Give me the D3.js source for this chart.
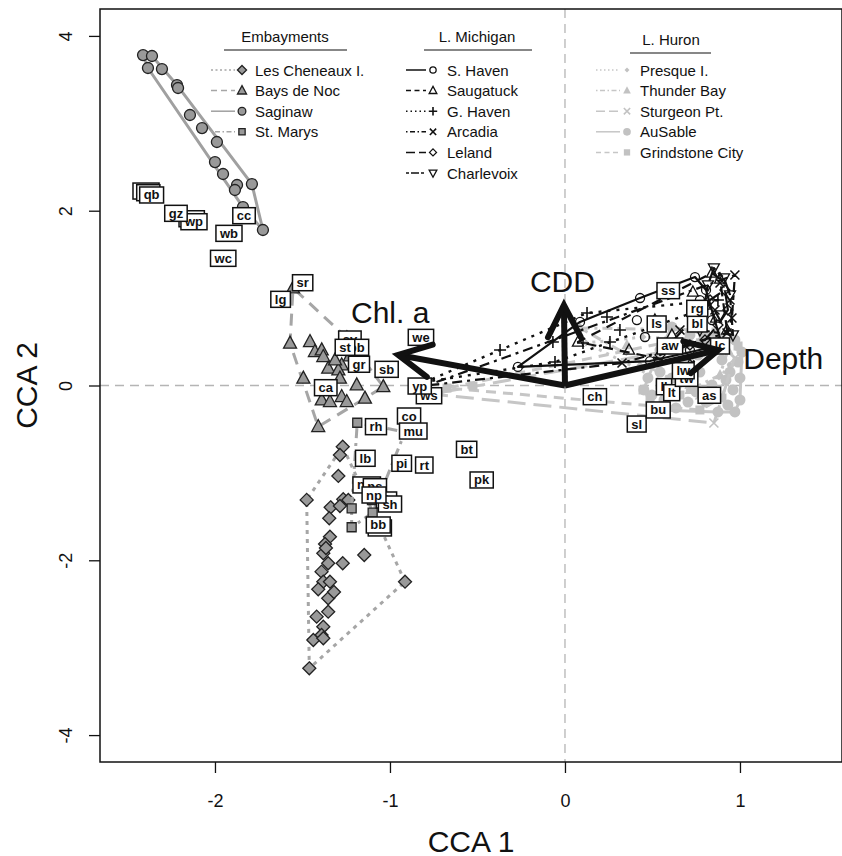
<!DOCTYPE html>
<html>
<head>
<meta charset="utf-8">
<script src="https://cdn.jsdelivr.net/npm/d3@7"></script>
<style>
body { margin: 0; background: #fff; }
text { font-family: "Liberation Sans", Arial, Helvetica, sans-serif; }
</style>
</head>
<body>
<svg id="chart" width="842" height="856"></svg>
<script>
// ---- site scores (CCA 1, CCA 2) ----
// Embayments
var lesCheneaux = [[-1.270,-0.700],[-1.286,-0.795],[-1.295,-1.035],[-1.476,-1.309],[-1.267,-1.302],[-1.238,-1.310],
	[-1.339,-1.394],[-1.286,-1.379],[-1.347,-1.519],[-1.343,-1.730],[-1.371,-1.814],[-1.381,-1.920],[-1.353,-2.034],
	[-1.391,-2.130],[-1.381,-2.245],[-1.343,-2.245],[-1.410,-2.332],[-1.353,-2.435],[-1.353,-2.588],[-1.419,-2.645],
	[-1.381,-2.760],[-1.391,-2.855],[-1.438,-2.912],[-1.381,-2.892],[-1.461,-3.236],[-1.270,-2.034],[-1.147,-1.939],
	[-0.914,-2.245],[-1.366,-1.859],[-1.320,-2.363]];
var baysDeNoc = [[-1.554,1.116],[-1.246,0.543],[-1.571,0.483],[-1.457,0.501],[-1.429,0.387],[-1.390,0.406],
	[-1.381,0.330],[-1.353,0.197],[-1.276,0.235],[-1.295,0.177],[-1.495,0.082],[-1.286,0.082],[-1.190,0.006],
	[-1.038,-0.014],[-1.390,-0.166],[-1.276,-0.128],[-1.247,-0.185],[-1.143,-0.146],[-1.343,-0.185],[-1.410,-0.471],
	[-1.314,0.292],[-1.229,0.338]];
var saginaw = [[-2.411,3.781],[-2.360,3.770],[-2.383,3.633],[-2.303,3.621],[-2.217,3.438],[-2.211,3.404],
	[-2.143,3.095],[-2.074,2.946],[-1.989,2.786],[-2.000,2.557],[-1.954,2.420],[-1.874,2.294],[-1.886,2.237],
	[-1.789,2.305],[-1.840,2.042],[-1.726,1.779]];
var stMarys = [[-1.187,-0.426],[-0.914,-0.532],[-1.219,-1.405],[-1.219,-1.622],[-1.099,-1.455],[-1.103,-1.310]];

// L. Michigan
var sHaven = [[-0.269,0.212],[0.086,0.727],[0.429,1.001],[0.743,1.241],[0.411,0.749],[0.457,0.555],[0.771,0.978],
	[0.840,0.749],[0.486,0.280],[0.714,0.406],[0.897,0.463],[0.806,1.093]];
var saugatuck = [[0.074,0.498],[0.366,0.406],[0.731,1.070],[0.840,1.287],[0.886,1.219],[0.800,0.921],[0.863,0.772],
	[0.611,0.578],[0.714,0.235],[0.926,0.635],[0.514,0.749]];
var gHaven = [[-0.800,0.040],[-0.371,0.406],[-0.057,0.269],[-0.069,0.498],[0.126,0.830],[0.240,0.784],[0.314,0.635],
	[0.257,0.498],[0.103,0.486],[0.771,0.864],[0.874,0.978]];
var arcadia = [[-0.790,0.000],[0.886,1.173],[0.926,0.601],[0.971,1.264],[0.943,0.978],[0.857,0.864],[0.326,0.257],
	[0.657,0.635],[0.954,0.772]];
var leland = [[0.800,0.521],[0.874,0.692],[0.914,1.093],[0.829,0.978],[0.714,0.463],[0.543,0.349],[0.931,0.864]];
var charlevoix = [[0.851,1.344],[0.909,1.230],[0.817,1.150],[0.943,1.036],[0.886,0.807],[0.960,0.578],[0.771,0.635]];

// L. Huron
var presqueI = [[0.120,0.486],[0.446,0.555],[0.771,0.521],[0.943,0.235],[0.800,-0.109],[0.600,0.006],[0.429,0.235]];
var thunderBay = [[0.086,0.658],[0.354,0.463],[0.800,0.635],[0.931,0.406],[0.886,0.120],[0.714,-0.051],[0.543,0.292]];
var sturgeonPt = [[-0.760,-0.098],[0.851,-0.429],[0.771,-0.109],[0.914,0.040],[0.971,0.315],[0.714,0.269],
	[0.874,0.498],[0.571,-0.143]];
var auSable = [[0.611,0.669],[0.714,0.578],[0.800,0.543],[0.971,0.521],[1.011,0.383],[0.989,0.269],[0.943,0.154],
	[1.000,0.086],[0.960,-0.051],[1.000,-0.166],[0.931,-0.223],[0.874,-0.303],[0.806,-0.189],[0.749,-0.074],
	[0.703,-0.189],[0.634,-0.257],[0.566,-0.166],[0.497,-0.109],[0.451,-0.051],[0.474,0.086],[0.543,0.154],
	[0.611,0.086],[0.771,0.154],[0.840,0.006],[0.897,0.292],[0.857,0.429],[0.760,0.349],[0.686,0.292],
	[0.920,0.063],[0.971,-0.303],[0.543,0.406],[0.514,-0.280]];
var grindstone = [[-0.674,-0.029],[-0.526,-0.006],[0.446,-0.051],[0.486,-0.166],[0.657,-0.109],[0.771,-0.280],
	[0.897,-0.143],[0.989,0.452],[0.863,0.612],[0.714,0.040],[0.543,0.006]];

// ---- species scores ----
var speciesCodes = ["bw","bk","qb","wy","wp","gz","cc","wb","wc","sr","lg","sv","pb","st","gr","sb","ca","we",
	"ws","yp","co","mu","rh","lb","pi","rt","bt","pk","nm","ns","th","sh","np","bs","bb",
	"ch","sl","bu","ll","lt","as","tw","lw","aw","lc","ls","bl","rg","ss"];
var speciesX = [-2.394,-2.381,-2.362,-2.133,-2.120,-2.223,-1.834,-1.920,-1.953,-1.499,-1.625,-1.229,-1.190,-1.257,
	-1.177,-1.019,-1.367,-0.823,-0.777,-0.830,-0.891,-0.867,-1.080,-1.141,-0.933,-0.804,-0.562,-0.476,
	-1.133,-1.086,-1.020,-1.000,-1.091,-1.058,-1.067,
	0.171,0.410,0.533,0.566,0.610,0.825,0.695,0.676,0.600,0.886,0.524,0.756,0.756,0.590];
var speciesY = [2.225,2.206,2.180,1.908,1.874,1.970,1.943,1.741,1.455,1.176,0.986,0.532,0.437,0.437,
	0.243,0.185,-0.025,0.551,-0.117,-0.006,-0.349,-0.521,-0.471,-0.833,-0.890,-0.910,-0.730,-1.081,
	-1.138,-1.158,-1.310,-1.356,-1.253,-1.630,-1.596,
	-0.128,-0.441,-0.280,-0.014,-0.082,-0.112,0.082,0.169,0.452,0.452,0.704,0.704,0.883,1.085];

// ---- environmental vectors ----
var envNames = ["Chl. a", "CDD", "Depth"];
var envX = [-0.953, -0.006, 0.876];
var envY = [0.349, 0.921, 0.406];

// ---- tick values ----
var xTicks = [-2, -1, 0, 1];
var yTicks = [-4, -2, 0, 2, 4];

// ---- styles (built from the arrays above) ----
var embFill = "#999999", embLine = "#a6a6a6";
var hurFill = "#c2c2c2", hurLine = "#c6c6c6";
var sites = [
	{ group: 0, name: "Les Cheneaux I.", pts: lesCheneaux, sym: "diamond", s: 6.5, fill: embFill, stroke: "#222", line: embLine, dash: "4,5", lw: 3 },
	{ group: 0, name: "Bays de Noc", pts: baysDeNoc, sym: "triangle", s: 6.5, fill: embFill, stroke: "#222", line: embLine, dash: "12,8", lw: 3 },
	{ group: 0, name: "Saginaw", pts: saginaw, sym: "circle", s: 5.5, fill: embFill, stroke: "#222", line: "#a0a0a0", dash: null, lw: 3 },
	{ group: 0, name: "St. Marys", pts: stMarys, sym: "square", s: 4.5, fill: embFill, stroke: "#222", line: embLine, dash: "3,5,10,5", lw: 3 },
	{ group: 1, name: "S. Haven", pts: sHaven, sym: "circle", s: 4.5, fill: "none", stroke: "#111", line: "#111", dash: null, lw: 2.2 },
	{ group: 1, name: "Saugatuck", pts: saugatuck, sym: "triangle", s: 5.5, fill: "none", stroke: "#111", line: "#111", dash: "10,7", lw: 2.2 },
	{ group: 1, name: "G. Haven", pts: gHaven, sym: "plus", s: 6, fill: "none", stroke: "#111", line: "#111", dash: "3,6", lw: 2.4 },
	{ group: 1, name: "Arcadia", pts: arcadia, sym: "cross", s: 4.5, fill: "none", stroke: "#111", line: "#111", dash: "3,5,10,5", lw: 2.2 },
	{ group: 1, name: "Leland", pts: leland, sym: "diamond", s: 5, fill: "none", stroke: "#111", line: "#111", dash: "18,8", lw: 2.2 },
	{ group: 1, name: "Charlevoix", pts: charlevoix, sym: "tridown", s: 5.5, fill: "none", stroke: "#111", line: "#111", dash: "6,4,16,4", lw: 2.2 },
	{ group: 2, name: "Presque I.", pts: presqueI, sym: "diamond", s: 3.5, fill: hurFill, stroke: "none", line: hurLine, dash: "3,5", lw: 3 },
	{ group: 2, name: "Thunder Bay", pts: thunderBay, sym: "triangle", s: 5.5, fill: hurFill, stroke: "none", line: hurLine, dash: "3,5,10,5", lw: 3 },
	{ group: 2, name: "Sturgeon Pt.", pts: sturgeonPt, sym: "cross", s: 4.5, fill: "none", stroke: hurFill, line: hurLine, dash: "18,8", lw: 3 },
	{ group: 2, name: "AuSable", pts: auSable, sym: "circle", s: 5.5, fill: hurFill, stroke: "none", line: hurLine, dash: null, lw: 3 },
	{ group: 2, name: "Grindstone City", pts: grindstone, sym: "square", s: 4.5, fill: hurFill, stroke: "none", line: hurLine, dash: "10,7", lw: 3 }
];
var groupTitles = ["Embayments", "L. Michigan", "L. Huron"];

var svg = d3.select("#chart");
var padL = 100, padT = 9, padR = 842, padB = 762;

var x = d3.scaleLinear().domain([-2.657, 1.583]).range([padL, padR]);
var y = d3.scaleLinear().domain([-4.308, 4.308]).range([padB, padT]);

svg.append("defs").append("clipPath").attr("id", "clip")
	.append("rect").attr("x", padL).attr("y", padT).attr("width", padR - padL).attr("height", padB - padT);

var plot = svg.append("g").attr("clip-path", "url(#clip)");

// zero lines
plot.append("line").attr("x1", x(0)).attr("x2", x(0)).attr("y1", padT).attr("y2", padB)
	.attr("stroke", "#b5b5b5").attr("stroke-width", 1.3).attr("stroke-dasharray", "9,6");
plot.append("line").attr("x1", padL).attr("x2", padR).attr("y1", y(0)).attr("y2", y(0))
	.attr("stroke", "#b5b5b5").attr("stroke-width", 1.3).attr("stroke-dasharray", "9,6");

function symPath(type, s) {
	if (type == "square") return "M" + (-s) + "," + (-s) + "H" + s + "V" + s + "H" + (-s) + "Z";
	if (type == "diamond") return "M0," + (-s) + "L" + s + ",0L0," + s + "L" + (-s) + ",0Z";
	if (type == "triangle") return "M0," + (-s * 1.1) + "L" + s + "," + (s * 0.75) + "L" + (-s) + "," + (s * 0.75) + "Z";
	if (type == "tridown") return "M0," + (s * 1.1) + "L" + s + "," + (-s * 0.75) + "L" + (-s) + "," + (-s * 0.75) + "Z";
	if (type == "plus") return "M" + (-s) + ",0H" + s + "M0," + (-s) + "V" + s;
	if (type == "cross") return "M" + (-s) + "," + (-s) + "L" + s + "," + s + "M" + (-s) + "," + s + "L" + s + "," + (-s);
	return "";
}

function drawSym(g, site, cx, cy, scale) {
	var s = site.s * scale;
	var line = site.sym == "plus" || site.sym == "cross";
	var sel;
	if (site.sym == "circle") {
		sel = g.append("circle").attr("cx", cx).attr("cy", cy).attr("r", s);
	} else {
		sel = g.append("path").attr("d", symPath(site.sym, s)).attr("transform", "translate(" + cx + "," + cy + ")");
	}
	sel.attr("fill", line ? "none" : site.fill)
		.attr("stroke", site.stroke)
		.attr("stroke-width", line ? 1.6 : 1.3);
}

function drawSite(site) {
	var g = plot.append("g");
	var pix = site.pts.map(function (p) { return [x(p[0]), y(p[1])]; });
	var hull = d3.polygonHull(pix);
	g.append("path")
		.attr("d", "M" + hull.join("L") + "Z")
		.attr("fill", "none")
		.attr("stroke", site.line)
		.attr("stroke-width", site.lw)
		.attr("stroke-dasharray", site.dash)
		.attr("stroke-linejoin", "round");
	pix.forEach(function (p) { drawSym(g, site, p[0], p[1], 1); });
}

// L. Huron first (underneath), then L. Michigan, then embayments
sites.filter(function (s) { return s.group == 2; }).forEach(drawSite);
sites.filter(function (s) { return s.group == 1; }).forEach(drawSite);
sites.filter(function (s) { return s.group == 0; }).forEach(drawSite);

// species labels in boxes
var lab = plot.append("g");
speciesCodes.forEach(function (code, i) {
	var cx = x(speciesX[i]), cy = y(speciesY[i]);
	var g = lab.append("g");
	var r = g.append("rect");
	var t = g.append("text").attr("x", cx).attr("y", cy)
		.attr("text-anchor", "middle").attr("dominant-baseline", "central")
		.attr("font-size", 13).attr("font-weight", "bold").attr("fill", "#111").text(code);
	var w = t.node().getComputedTextLength() + 8;
	r.attr("x", cx - w / 2).attr("y", cy - 8).attr("width", w).attr("height", 16)
		.attr("fill", "#fff").attr("stroke", "#111").attr("stroke-width", 1.5);
});

// environmental arrows
var arr = plot.append("g");
var labelOffsets = [[-8, -42], [-1.5, -24], [65, 8]];
envNames.forEach(function (name, i) {
	var x0 = x(0), y0 = y(0), x1 = x(envX[i]), y1 = y(envY[i]);
	var ang = Math.atan2(y0 - y1, x0 - x1);
	var L = 36, a = 27 * Math.PI / 180;
	arr.append("line").attr("x1", x0).attr("y1", y0).attr("x2", x1).attr("y2", y1)
		.attr("stroke", "#111").attr("stroke-width", 6);
	var b1 = [x1 + L * Math.cos(ang + a), y1 + L * Math.sin(ang + a)];
	var b2 = [x1 + L * Math.cos(ang - a), y1 + L * Math.sin(ang - a)];
	arr.append("path").attr("d", "M" + b1 + "L" + x1 + "," + y1 + "L" + b2)
		.attr("fill", "none").attr("stroke", "#111").attr("stroke-width", 6)
		.attr("stroke-linejoin", "miter").attr("stroke-linecap", "round");
	arr.append("text").attr("x", x1 + labelOffsets[i][0]).attr("y", y1 + labelOffsets[i][1])
		.attr("text-anchor", "middle").attr("dominant-baseline", "central")
		.attr("font-size", 30).attr("fill", "#111").text(name);
});

// frame
svg.append("rect").attr("x", padL).attr("y", padT).attr("width", padR - padL).attr("height", padB - padT)
	.attr("fill", "none").attr("stroke", "#111").attr("stroke-width", 1.5);

// axes
var xAxis = svg.append("g").attr("transform", "translate(0," + padB + ")")
	.call(d3.axisBottom(x).tickValues(xTicks).tickSize(11).tickPadding(22).tickFormat(function (d) { return String(d); }));
var yAxis = svg.append("g").attr("transform", "translate(" + padL + ",0)")
	.call(d3.axisLeft(y).tickValues(yTicks).tickSize(11).tickFormat(function (d) { return String(d); }));
[xAxis, yAxis].forEach(function (a) {
	a.select(".domain").remove();
	a.selectAll("line").attr("stroke", "#111").attr("stroke-width", 1.3);
	a.selectAll("text").attr("font-size", 18).attr("fill", "#111")
		.attr("font-family", "'Liberation Sans', Arial, sans-serif");
});
xAxis.selectAll("text").attr("dy", null).attr("dominant-baseline", "central").attr("y", 39);
yAxis.selectAll("text").attr("x", null).attr("dy", null)
	.attr("text-anchor", "middle").attr("dominant-baseline", "central")
	.attr("transform", "translate(-34,0) rotate(-90)");

svg.append("text").attr("x", (padL + padR) / 2).attr("y", 841)
	.attr("text-anchor", "middle").attr("dominant-baseline", "central")
	.attr("font-size", 30).attr("fill", "#111").text("CCA 1");
svg.append("text").attr("transform", "translate(26," + ((padT + padB) / 2) + ") rotate(-90)")
	.attr("text-anchor", "middle").attr("dominant-baseline", "central")
	.attr("font-size", 30).attr("fill", "#111").text("CCA 2");

// legend
var legCols = [
	{ titleX: 285, titleY: 36, ul: [224, 347], lineX: [211, 235], symX: 242, textX: 255 },
	{ titleX: 477, titleY: 36, ul: [424, 532], lineX: [406, 426], symX: 433, textX: 447 },
	{ titleX: 671, titleY: 39, ul: [630, 711], lineX: [596, 620], symX: 627, textX: 640 }
];
var leg = svg.append("g");
groupTitles.forEach(function (title, gi) {
	var c = legCols[gi];
	leg.append("text").attr("x", c.titleX).attr("y", c.titleY)
		.attr("text-anchor", "middle").attr("dominant-baseline", "central")
		.attr("font-size", 15).attr("fill", "#111").text(title);
	leg.append("line").attr("x1", c.ul[0]).attr("x2", c.ul[1]).attr("y1", c.titleY + 14).attr("y2", c.titleY + 14)
		.attr("stroke", "#111").attr("stroke-width", 1.2);
	sites.filter(function (s) { return s.group == gi; }).forEach(function (site, j) {
		var ry = 70 + j * 20.6;
		leg.append("line").attr("x1", c.lineX[0]).attr("x2", c.lineX[1]).attr("y1", ry).attr("y2", ry)
			.attr("stroke", site.line).attr("stroke-width", 1.5)
			.attr("stroke-dasharray", site.dash ? site.dash.split(",").map(function (v) { return v * 0.5; }).join(",") : null);
		drawSym(leg, site, c.symX, ry, 0.7);
		leg.append("text").attr("x", c.textX).attr("y", ry)
			.attr("dominant-baseline", "central")
			.attr("font-size", 15).attr("fill", "#111").text(site.name);
	});
});
</script>
</body>
</html>
